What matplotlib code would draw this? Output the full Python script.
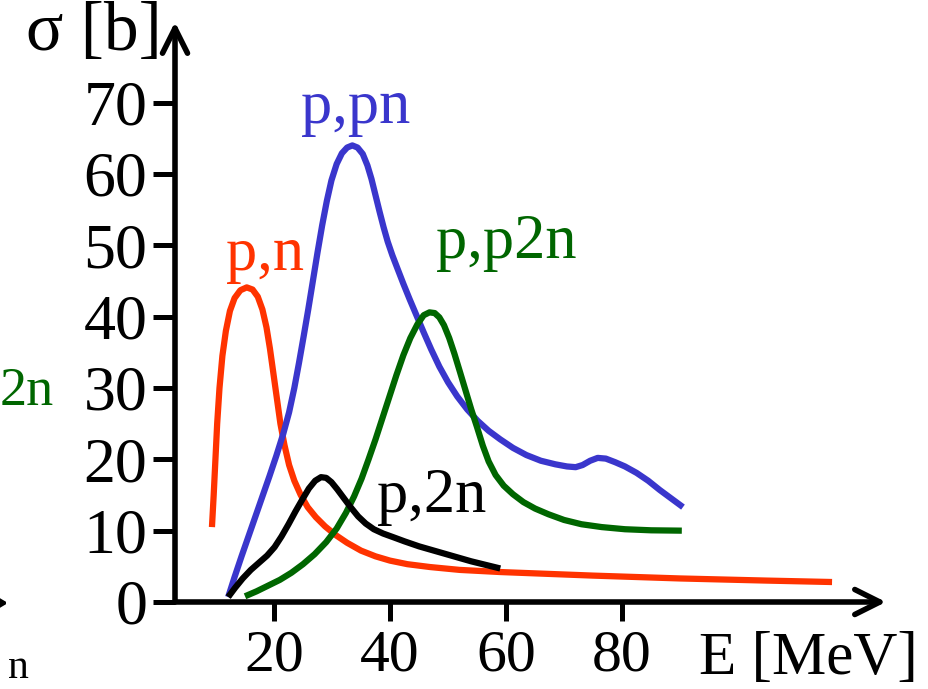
import matplotlib
matplotlib.use('Agg')
import matplotlib.pyplot as plt
from matplotlib.patches import FancyArrowPatch

plt.rcParams['font.family'] = ['Liberation Serif', 'DejaVu Serif']

# cross sections sigma [b] vs proton energy E [MeV]
pn_E = [9.3, 9.6, 9.9, 10.2, 10.6, 11.1, 11.7, 12.4, 13.2, 14.2, 15.3, 16.3,
        17.2, 18.0, 18.7, 19.3, 19.9, 20.5, 21.1, 21.8, 22.6, 23.5, 24.6,
        25.8, 27.2, 28.8, 30.6, 32.6, 35.0, 37.5, 40.0, 43.0, 46.9, 52.0,
        59.0, 75.0, 90.0, 105.0, 116.2]
pn_s = [10.5, 15.0, 20.0, 25.0, 30.0, 34.5, 38.0, 40.8, 42.6, 43.7, 44.1, 43.8,
        42.8, 41.0, 38.5, 35.5, 32.0, 28.5, 25.0, 22.0, 19.2, 17.0, 15.0,
        13.3, 11.9, 10.6, 9.4, 8.3, 7.2, 6.4, 5.8, 5.3, 4.9, 4.5,
        4.2, 3.7, 3.3, 3.0, 2.8]

ppn_E = [12.1, 13.2, 14.4, 15.6, 16.8, 18.0, 19.2, 20.4, 21.6, 22.6, 23.5,
         24.3, 25.1, 25.9, 26.7, 27.5, 28.3, 29.1, 29.9, 30.8, 31.7, 32.6,
         33.5, 34.4, 35.3, 36.1, 36.8, 37.5, 38.2, 38.9, 39.6, 40.4, 41.3,
         42.3, 43.4, 44.6, 45.8, 47.1, 48.5, 50.0, 51.6, 53.3, 55.1, 57.0,
         59.0, 61.2, 63.5, 66.0, 68.5, 70.5, 72.0, 73.2, 74.5, 75.8, 77.2,
         78.8, 80.5, 82.5, 84.5, 86.5, 88.5, 90.5]
ppn_s = [0.7, 3.5, 6.4, 9.2, 12.0, 14.8, 17.6, 20.5, 23.6, 26.6, 30.0,
         33.5, 37.2, 41.0, 45.0, 49.0, 52.8, 56.2, 59.1, 61.4, 62.9, 63.7,
         64.0, 63.7, 62.8, 61.2, 59.3, 57.0, 54.7, 52.5, 50.5, 48.6, 46.7,
         44.6, 42.4, 40.1, 37.8, 35.4, 33.0, 30.8, 28.8, 27.0, 25.4, 24.0,
         22.8, 21.6, 20.6, 19.8, 19.3, 19.0, 18.9, 19.2, 19.8, 20.2, 20.1,
         19.6, 19.0, 18.1, 17.0, 15.7, 14.5, 13.3]

pp2n_E = [15.0, 17.0, 19.0, 21.0, 23.0, 25.0, 27.0, 29.0, 30.8, 32.4, 33.8,
          35.1, 36.3, 37.5, 38.7, 39.9, 41.1, 42.3, 43.5, 44.7, 45.8, 46.8,
          47.7, 48.5, 49.3, 50.2, 51.1, 52.0, 53.0, 54.0, 55.0, 56.0, 57.0,
          58.2, 59.6, 61.2, 63.0, 65.0, 67.3, 70.0, 73.0, 76.5, 80.5, 85.0,
          90.3]
pp2n_s = [0.8, 1.5, 2.3, 3.1, 4.1, 5.3, 6.7, 8.4, 10.3, 12.5, 14.8,
          17.3, 20.0, 22.8, 25.8, 28.8, 31.8, 34.6, 37.0, 38.9, 40.2, 40.6,
          40.5, 39.9, 38.8, 37.0, 34.8, 32.4, 29.7, 27.0, 24.5, 21.9, 19.7,
          17.8, 16.3, 15.1, 14.0, 13.1, 12.3, 11.5, 10.9, 10.5, 10.2, 10.05,
          10.0]

p2n_E = [12.1, 13.3, 14.6, 16.0, 17.4, 18.8, 20.1, 21.3, 22.5, 23.7, 24.9,
         26.0, 27.1, 28.1, 29.0, 29.9, 30.9, 32.0, 33.2, 34.5, 35.8, 37.2,
         38.8, 40.5, 42.5, 45.0, 48.0, 51.0, 54.0, 57.0, 59.0]
p2n_s = [0.7, 2.0, 3.3, 4.5, 5.5, 6.5, 7.7, 9.2, 10.9, 12.7, 14.4,
         15.9, 17.0, 17.5, 17.4, 16.8, 15.8, 14.6, 13.3, 12.0, 11.0, 10.2,
         9.6, 9.1, 8.5, 7.8, 7.1, 6.4, 5.7, 5.1, 4.7]

x_ticks = [20, 40, 60, 80]
y_ticks = [0, 10, 20, 30, 40, 50, 60, 70]

W, H = 929, 689
fig = plt.figure(figsize=(W / 100, H / 100), dpi=100)
ax = fig.add_axes([175 / W, 87 / H, 711 / W, 580 / H])

kw = dict(lw=4.5, solid_capstyle='butt', solid_joinstyle='round')
ax.plot(pn_E, pn_s, color='#FF3300', **kw)
ax.plot(ppn_E, ppn_s, color='#3A36CC', **kw)
ax.plot(pp2n_E, pp2n_s, color='#006600', **kw)
ax.plot(p2n_E, p2n_s, color='black', **kw)

ax.set_xlim(2.93, 125.5)
ax.set_ylim(0, 81.3)
for s in ax.spines.values():
    s.set_visible(False)

# axes with open arrow heads
arrow = dict(arrowstyle='->, head_length=0.9, head_width=0.45', lw=4,
             color='black', shrinkA=0, shrinkB=0, mutation_scale=20)
ax.annotate('', xy=(1, 0), xytext=(0, 0), xycoords='axes fraction',
            arrowprops=arrow, annotation_clip=False)
ax.annotate('', xy=(0, 1), xytext=(0, 0), xycoords='axes fraction',
            arrowprops=arrow, annotation_clip=False)

ax.set_xticks(x_ticks)
ax.set_yticks(y_ticks)
ax.tick_params(axis='y', direction='out', length=16, width=3.6, pad=4, labelsize=46)
ax.tick_params(axis='x', direction='out', length=14, width=3.6, pad=6, labelsize=43)

# curve labels
ax.text(18.4, 46.6, 'p,n', color='#FF3300', fontsize=45, ha='center', va='baseline')
ax.text(34.0, 67.2, 'p,pn', color='#3A36CC', fontsize=45, ha='center', va='baseline')
ax.text(60.0, 48.2, 'p,p2n', color='#006600', fontsize=45, ha='center', va='baseline')
ax.text(47.2, 12.6, 'p,2n', color='black', fontsize=45, ha='center', va='baseline')

# axis titles
fig.text(162 / W, 1 - 50 / H, 'σ [b]', fontsize=50, ha='right', va='baseline')
fig.text(918 / W, 1 - 674 / H, 'E [MeV]', fontsize=44, ha='right', va='baseline')

# pieces of the neighbouring panel cut off at the left edge
fig.text(54 / W, 1 - 405 / H, '2n', color='#006600', fontsize=39, ha='right', va='baseline')
fig.text(8 / W, 1 - 678 / H, 'n', fontsize=30, ha='left', va='baseline')
fig.patches.append(FancyArrowPatch(
    (-30 / W, 1 - 603 / H), (8 / W, 1 - 603 / H), transform=fig.transFigure,
    arrowstyle='-|>, head_length=0.5, head_width=0.3', mutation_scale=20,
    lw=3, color='black', shrinkA=0, shrinkB=0))

fig.savefig('out.png', dpi=100)
